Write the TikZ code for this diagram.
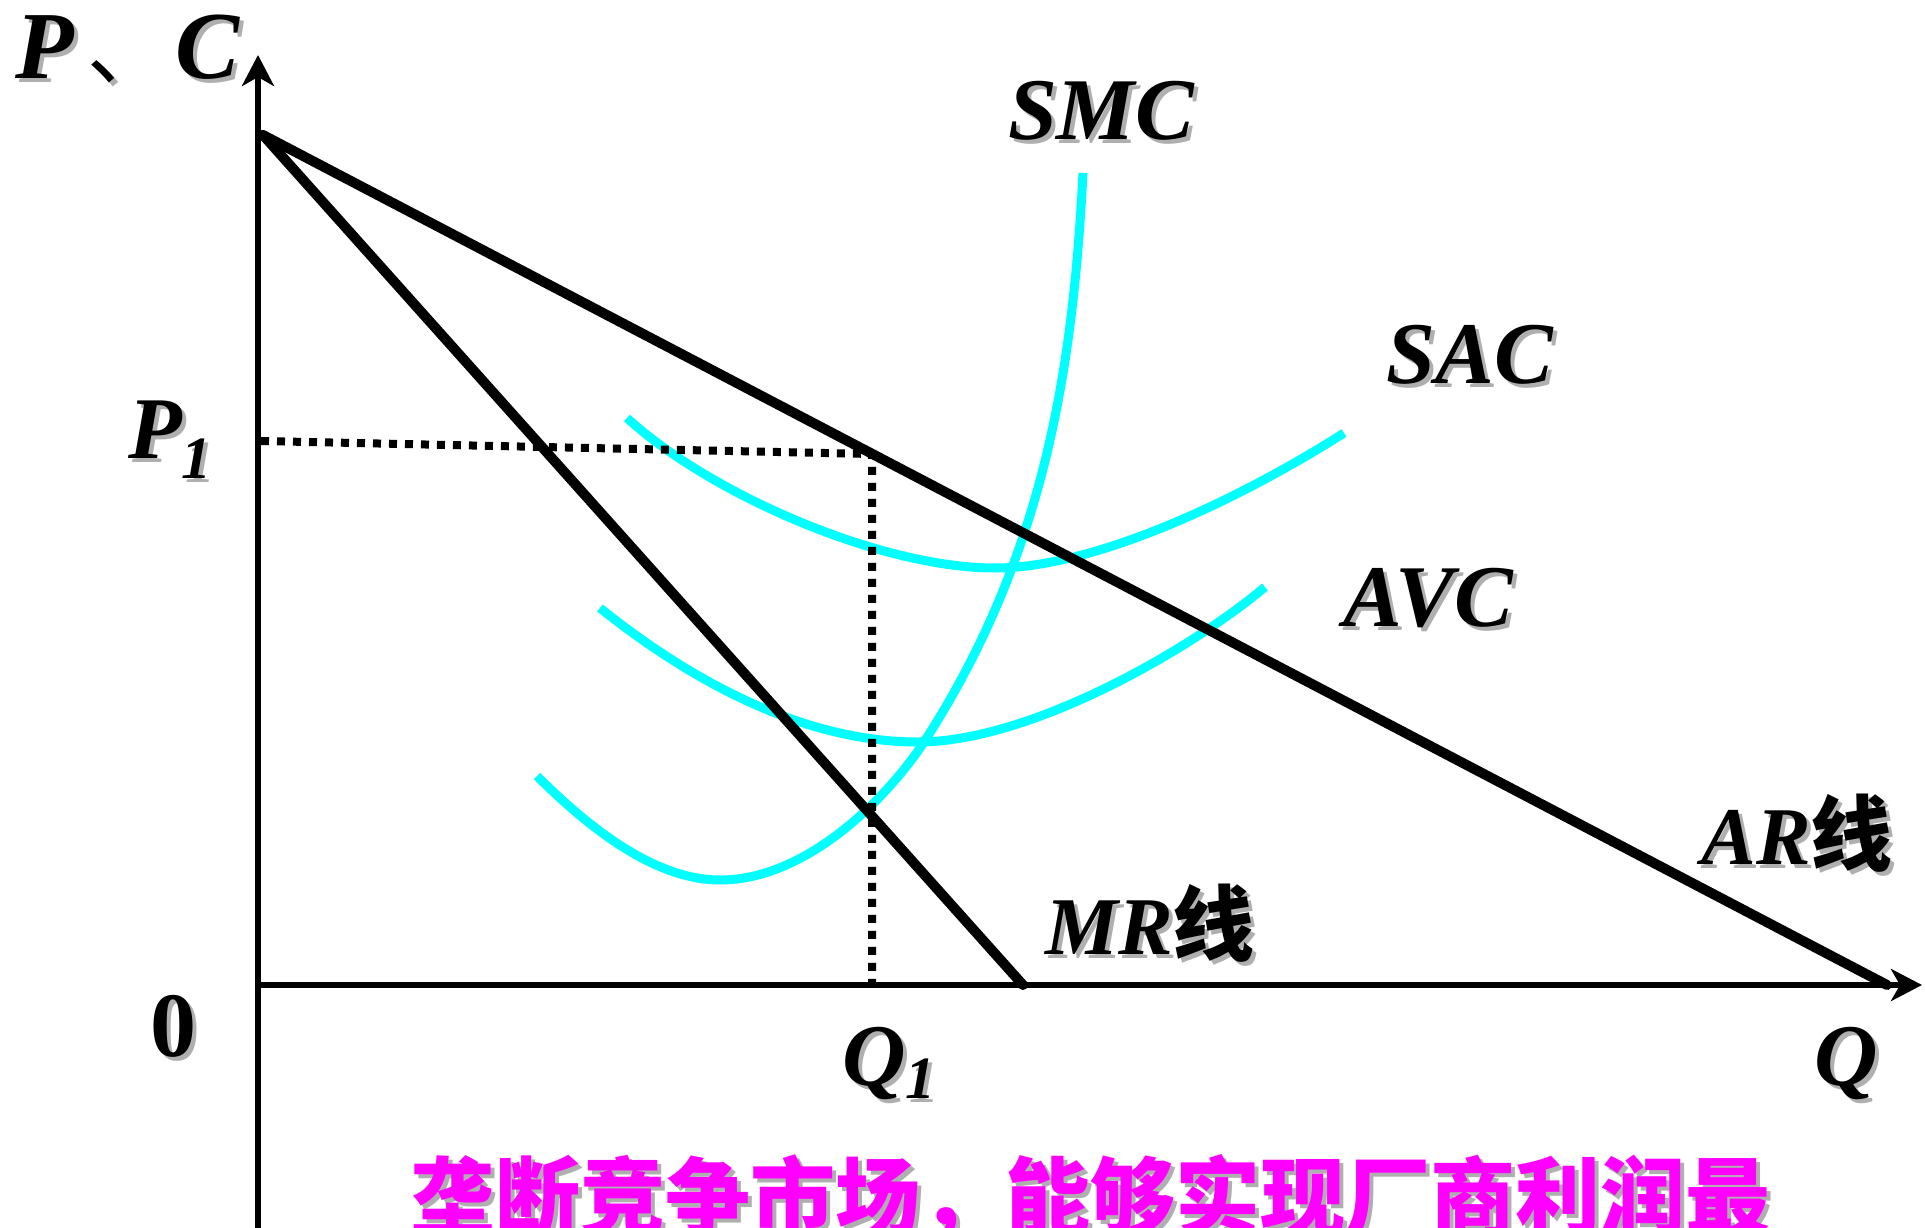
\documentclass[tikz,border=0pt]{standalone}
\usepackage{fontspec}
\setmainfont{Liberation Serif}
\newfontfamily\cjk{Noto Sans CJK SC}
\usetikzlibrary{arrows.meta}
\definecolor{shad}{RGB}{175,175,175}
\definecolor{curvecyan}{RGB}{0,255,255}
\definecolor{mag}{RGB}{255,0,255}
\newcommand\shtxt[1]{\rlap{\kern4pt\raisebox{-4pt}{\color{shad}#1}}#1}
\begin{document}
\begin{tikzpicture}[x=1pt,y=-1pt,
  axis/.style={line width=5.5pt,-{Stealth[length=31pt,width=32pt,inset=9pt]}},
  demand/.style={line width=10pt,line cap=round,line join=round},
  cost/.style={line width=9pt,draw=curvecyan},
  guide/.style={line width=8pt,dash pattern=on 8pt off 8pt},
  lbl/.style={inner sep=0pt,anchor=base,font=\fontsize{88pt}{88pt}\selectfont\bfseries\itshape},
  lblsm/.style={lbl,font=\fontsize{82pt}{82pt}\selectfont\bfseries\itshape}]
\useasboundingbox (0,0) rectangle (1925,1228);
% key points
\coordinate (O) at (258,985);
\coordinate (ytop) at (258,55);
\coordinate (ybot) at (258,1228);
\coordinate (xend) at (1922,985);
\coordinate (A) at (263,135);
\coordinate (ARq) at (1887,985);
\coordinate (MRq) at (1023,985);
\coordinate (P1pt) at (261,441);
\coordinate (E) at (872,454);
\coordinate (Q1pt) at (872,985);
% axes
\draw[axis] (ybot) -- (ytop);
\draw[axis] (O) -- (xend);
% cost curves
\draw[cost] (537,776) .. controls (597,836) and (660,880) .. (720,880)
  .. controls (810,880) and (891.5,792) .. (924,742)
  .. controls (1047,552) and (1073,363) .. (1083,173);
\draw[cost] (627,418) .. controls (710,494) and (880,568) .. (995,568)
  .. controls (1100,568) and (1250,493) .. (1344,433);
\draw[cost] (600,608) .. controls (700,688) and (810,742) .. (918,742)
  .. controls (1030,742) and (1190,650) .. (1265,587);
% demand / revenue lines
\draw[demand] (A) -- (ARq);
\draw[demand] (A) -- (MRq);
% guide lines
\draw[guide] (P1pt) -- (E) -- (Q1pt);
% labels
\node[lbl,anchor=base west,font=\fontsize{96pt}{96pt}\selectfont\bfseries\itshape] (pc) at (15,79) {\shtxt{P}\kern14pt\shtxt{{\cjk\upshape\mdseries\fontsize{80pt}{80pt}\selectfont 、}}\kern8pt\shtxt{C}};
\node[lbl,anchor=base west] (p1) at (128,458) {\shtxt{P}\raisebox{-20pt}{\fontsize{60pt}{60pt}\selectfont\shtxt{1}}};
\node[lbl,font=\fontsize{92pt}{92pt}\selectfont\bfseries\upshape] (zero) at (173,1056) {\shtxt{0}};
\node[lbl,anchor=base west] (q1) at (842,1085) {\shtxt{Q}\raisebox{-13pt}{\fontsize{60pt}{60pt}\selectfont\shtxt{1}}};
\node[lbl] (q) at (1846,1085) {\shtxt{Q}};
\node[lbl] (smc) at (1101,140) {\shtxt{SMC}};
\node[lbl] (sac) at (1470,383) {\shtxt{SAC}};
\node[lbl] (avc) at (1428,626) {\shtxt{AVC}};
\node[lblsm] (ar) at (1797,864) {\shtxt{AR{\cjk\upshape 线}}};
\node[lblsm] (mr) at (1150,954) {\shtxt{MR{\cjk\upshape 线}}};
\node[inner sep=0pt,anchor=base west,text=mag,font=\cjk\bfseries\fontsize{85pt}{85pt}\selectfont] (title) at (410,1228) {\shtxt{垄断竞争市场，能够实现厂商利润最}};
\end{tikzpicture}
\end{document}
